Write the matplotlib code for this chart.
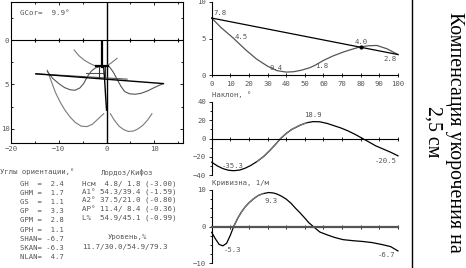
import matplotlib
matplotlib.use("Agg")
import matplotlib.pyplot as plt
from matplotlib.ticker import MultipleLocator

W, H = 466, 268
MONO = "DejaVu Sans Mono"
TXT = "#555555"
GRAY = "#7a7a7a"

# ---------------- data ----------------
# Left panel (frontal projection)
gcor = 9.9
line_black_x = [-14.8, 11.9]
line_black_y = [3.8, 4.9]
line_gray_x = [-14.8, 4.3]
line_gray_y = [3.8, 4.4]
wave_left_x = [-12.4, -11.3, -10.0, -8.8, -7.6, -6.6, -5.6, -4.8, -4.0, -3.2, -2.4, -1.6]
wave_left_y = [3.5, 4.3, 4.9, 5.35, 5.6, 5.65, 5.4, 4.9, 4.1, 3.5, 3.15, 3.0]
wave_right_x = [0.6, 1.4, 2.2, 3.0, 3.8, 4.8, 6.0, 7.2, 8.5, 9.8, 11.0, 11.9]
wave_right_y = [3.0, 3.6, 4.4, 5.2, 5.8, 6.05, 6.1, 6.0, 5.75, 5.4, 5.1, 4.9]
u_left_x = [-12.4, -11.6, -10.7, -9.7, -8.7, -7.6, -6.5, -5.3, -4.1, -3.0, -2.0, -1.2, -0.6]
u_left_y = [3.4, 4.6, 5.9, 7.0, 7.9, 8.7, 9.3, 9.7, 9.75, 9.5, 9.0, 8.6, 8.3]
u_right_x = [0.8, 1.6, 2.6, 3.6, 4.6, 5.6, 6.6, 7.6, 8.6, 9.5]
u_right_y = [8.3, 9.0, 9.7, 10.1, 10.3, 10.25, 10.0, 9.6, 9.0, 8.3]
arc_left_x = [-6.8, -5.8, -4.7, -3.6, -2.6, -1.5, -0.6]
arc_left_y = [1.1, 1.75, 2.25, 2.6, 2.85, 2.95, 3.0]
arc_right_x = [0.1, 0.8, 1.5, 2.2]
arc_right_y = [2.85, 2.65, 2.35, 2.05]
stem_x = [-0.9, -0.9]
stem_y = [0.2, 3.0]
spine_tail_x = [-0.6, -0.4, -0.2, 0.0]
spine_tail_y = [3.0, 4.5, 6.3, 7.9]
hbar_x = [-2.3, 0.2]
hbar_y = [2.9, 2.9]
box_x = [-1.6, -1.6, -0.3, -0.3]
box_y = [4.2, 2.9, 2.9, 4.2]
short_x = [-4.2, -0.8]
short_y = [3.7, 3.7]
left_inner_ticks = [-15, -10, -5, 5, 10, 15]

# Top right panel
pos = [0, 5, 11.4, 18, 24, 30, 35, 40, 44, 48, 52.7, 56, 60, 65, 70.7, 75, 79.6, 84, 88.6, 94, 100]
shift_curve = [7.8, 6.5, 5.1, 3.5, 2.2, 1.2, 0.6, 0.4, 0.45, 0.65, 1.0, 1.4, 2.0, 2.6, 3.15, 3.5, 3.85, 4.0, 4.05, 3.6, 2.8]
shift_line_x = [0, 100]
shift_line_y = [7.8, 2.8]
shift_labels = ["7.8", "4.5", "0.4", "1.8", "4.0", "2.8"]
shift_label_x = [4.5, 16, 34.8, 59.2, 80.1, 95.7]
shift_label_y = [8.5, 5.25, 0.95, 1.25, 4.55, 2.15]
shift_mark_x = [80]
shift_mark_y = [3.85]

# Middle right panel (Наклон)
tilt_x = [0, 3, 6, 9, 11.8, 15, 18, 21, 24.5, 28, 31, 34, 37, 40, 43, 47.6, 51, 54.5, 58, 62, 66, 69, 73, 77, 81, 85, 88, 92, 96, 100]
tilt_y = [-26, -30, -33, -34.8, -35.3, -34.6, -32.5, -29.5, -25, -19.5, -13.5, -7, 0, 5.5, 10, 14.7, 17.3, 18.5, 18.3, 16.5, 13.8, 11.8, 8.5, 4.5, 0, -4.5, -8, -11.5, -15, -19]
tilt_labels = ["-35.3", "18.9", "-20.5"]
tilt_label_x = [11, 54.5, 93.5]
tilt_label_y = [-30, 25.5, -24.7]

# Bottom right panel (Кривизна)
curv_x = [0, 2, 4, 6, 8, 10, 11.8, 14, 16, 18, 20, 22.5, 25, 27.5, 30.5, 33, 35, 37.5, 40, 42.5, 45, 47.5, 50, 52, 54.5, 58, 62, 66, 70.5, 76, 81, 86, 91, 96, 100]
curv_y = [-1.6, -3.4, -4.9, -5.3, -4.6, -2.4, 0, 2.3, 4.0, 5.4, 6.5, 7.6, 8.5, 9.0, 9.3, 9.2, 8.9, 8.3, 7.5, 6.4, 5.0, 3.7, 2.3, 1.1, 0, -1.5, -2.3, -3.0, -3.6, -3.9, -4.1, -4.4, -4.9, -5.5, -6.7]
curv_labels = ["9.3", "-5.3", "-6.7"]
curv_label_x = [32, 11.2, 93.8]
curv_label_y = [7.1, -6.4, -7.8]

# Text block data
angle_title = "Углы ориентации,°"
angle_names = ["GH", "GHM", "GS", "GP", "GPM", "GPH", "SHAN", "SKAN", "NLAN"]
angle_values = [2.4, 1.7, 1.1, 3.3, 2.8, 1.1, -6.7, -6.3, 4.7]
lk_title = "Лордоз/Кифоз"
lk_names = ["Hсм", "A1°", "A2°", "AP°", "L%"]
lk_lord = [4.8, 54.3, 37.5, 11.4, 54.9]
lk_kyph = [1.8, 39.4, 21.0, 8.4, 45.1]
lk_ratio = [-3.00, -1.59, -0.80, -0.36, -0.99]
level_title = "Уровень,%"
levels = [11.7, 30.0, 54.9, 79.3]
side_title = "Компенсация укорочения на\n2,5 см"
tilt_title = "Наклон, °"
curv_title = "Кривизна, 1/м"


def fx(px):
    return px / W


def fy(py):
    return 1 - py / H


def box(x0, y0, x1, y1):
    return [fx(x0), fy(y1), fx(x1) - fx(x0), fy(y0) - fy(y1)]


fig = plt.figure(figsize=(W / 100, H / 100), dpi=100)
fig.patch.set_facecolor("white")

tick_font = dict(labelsize=5.2, labelcolor=TXT, width=0.6, color="black")


def style_ticks(ax):
    for lab in ax.get_xticklabels() + ax.get_yticklabels():
        lab.set_fontfamily(MONO)


# ---------------- Left panel ----------------
axL = fig.add_axes(box(11, 2, 183, 143))
axL.set_xlim(-20, 16)
axL.set_ylim(11.6, -4.3)
axL.set_xticks([-20, -10, 0, 10])
axL.set_yticks([0, 5, 10])
axL.xaxis.set_minor_locator(MultipleLocator(5))
axL.yaxis.set_minor_locator(MultipleLocator(2.5))
axL.tick_params(which="both", direction="in", top=True, right=True, length=2.5, pad=1.2, **tick_font)
axL.tick_params(axis="x", pad=2.5)
axL.tick_params(which="minor", length=1.5)
for s in axL.spines.values():
    s.set_linewidth(0.8)
axL.axhline(0, color="black", lw=0.8)
axL.axvline(0, color="black", lw=1.0)
axL.plot(left_inner_ticks, [0] * len(left_inner_ticks), "|", color="black", ms=3, mew=0.8)
axL.plot(u_left_x, u_left_y, color=GRAY, lw=0.8)
axL.plot(u_right_x, u_right_y, color=GRAY, lw=0.8)
axL.plot(wave_left_x, wave_left_y, color="#555555", lw=0.8)
axL.plot(wave_right_x, wave_right_y, color="#555555", lw=0.8)
axL.plot(arc_left_x, arc_left_y, color=GRAY, lw=0.8)
axL.plot(arc_right_x, arc_right_y, color=GRAY, lw=0.8)
axL.plot(line_gray_x, line_gray_y, color="#555555", lw=0.8)
axL.plot(line_black_x, line_black_y, color="black", lw=1.0)
axL.plot(short_x, short_y, color="#555555", lw=0.8)
axL.plot(box_x, box_y, color="#333333", lw=0.8)
axL.plot(hbar_x, hbar_y, color="black", lw=1.6)
axL.plot(stem_x, stem_y, color="black", lw=1.6)
axL.plot(spine_tail_x, spine_tail_y, color="black", lw=1.0)
axL.text(0.055, 0.92, f"GCor=  {gcor:.1f}°", transform=axL.transAxes, fontsize=5.4,
         family=MONO, color=TXT, va="center", ha="left")
style_ticks(axL)

# ---------------- Top right panel ----------------
axT = fig.add_axes(box(211.7, 2, 398, 75))
axT.set_xlim(0, 100)
axT.set_ylim(0, 10)
axT.set_xticks(range(0, 101, 10))
axT.set_yticks([0, 5, 10])
axT.spines["top"].set_visible(False)
axT.spines["right"].set_visible(False)
for s in ["left", "bottom"]:
    axT.spines[s].set_linewidth(0.8)
axT.tick_params(axis="x", direction="inout", length=3, pad=3, **tick_font)
axT.tick_params(axis="y", direction="out", length=2.5, pad=1.5, **tick_font)
axT.plot(pos, shift_curve, color="#555555", lw=0.9, clip_on=False)
axT.plot(shift_line_x, shift_line_y, color="black", lw=0.9, clip_on=False)
axT.plot(shift_mark_x, shift_mark_y, "o", color="black", ms=2)
for t, x, y in zip(shift_labels, shift_label_x, shift_label_y):
    axT.text(x, y, t, fontsize=5.2, family=MONO, color=TXT, ha="center", va="center")
style_ticks(axT)

# ---------------- Middle right panel ----------------
axM = fig.add_axes(box(211.7, 102, 398, 175))
axM.set_xlim(0, 100)
axM.set_ylim(-40, 40)
axM.set_xticks(range(0, 101, 10))
axM.set_yticks([-40, -20, 0, 20, 40])
axM.yaxis.set_minor_locator(MultipleLocator(10))
axM.spines["top"].set_visible(False)
axM.spines["right"].set_visible(False)
axM.spines["bottom"].set_position(("data", 0))
axM.spines["left"].set_linewidth(0.8)
axM.spines["bottom"].set_linewidth(0.8)
axM.tick_params(axis="x", direction="inout", length=3, labelbottom=False, **tick_font)
axM.tick_params(axis="y", which="both", direction="out", length=2.5, pad=1.5, **tick_font)
axM.tick_params(axis="y", which="minor", length=1.5)
axM.plot(tilt_x, tilt_y, color="black", lw=0.9, clip_on=False)
axM.plot(tilt_x[8:17], tilt_y[8:17], color=GRAY, lw=0.9)
for t, x, y in zip(tilt_labels, tilt_label_x, tilt_label_y):
    axM.text(x, y, t, fontsize=5.2, family=MONO, color=TXT, ha="center", va="center")
style_ticks(axM)

# ---------------- Bottom right panel ----------------
axB = fig.add_axes(box(211.7, 190, 398, 263))
axB.set_xlim(0, 100)
axB.set_ylim(-10, 10)
axB.set_xticks(range(0, 101, 10))
axB.set_yticks([-10, 0, 10])
axB.yaxis.set_minor_locator(MultipleLocator(2.5))
axB.spines["top"].set_visible(False)
axB.spines["right"].set_visible(False)
axB.spines["bottom"].set_position(("data", 0))
axB.spines["left"].set_linewidth(0.8)
axB.spines["bottom"].set_linewidth(1.6)
axB.spines["bottom"].set_color("#555555")
axB.tick_params(axis="x", direction="inout", length=3.5, labelbottom=False, **tick_font)
axB.tick_params(axis="y", which="both", direction="out", length=2.5, pad=1.5, **tick_font)
axB.tick_params(axis="y", which="minor", length=1.5)
axB.plot(curv_x, curv_y, color="black", lw=0.9, clip_on=False)
axB.plot(curv_x[6:14], curv_y[6:14], color=GRAY, lw=0.9)
for t, x, y in zip(curv_labels, curv_label_x, curv_label_y):
    axB.text(x, y, t, fontsize=5.2, family=MONO, color=TXT, ha="center", va="center")
style_ticks(axB)

# Panel titles
fig.text(fx(212), fy(95), tilt_title, fontsize=5.2, family=MONO, color=TXT, va="center", ha="left")
fig.text(fx(212), fy(183), curv_title, fontsize=5.2, family=MONO, color=TXT, va="center", ha="left")

# ---------------- Text block ----------------
fig.text(fx(0), fy(172), angle_title, fontsize=5.2, family=MONO, color=TXT, va="center", ha="left")
for i, (n, v) in enumerate(zip(angle_names, angle_values)):
    fig.text(fx(20), fy(184 + 9.1 * i), f"{n:<4}={v:5.1f}", fontsize=5.2, family=MONO,
             color=TXT, va="center", ha="left")
fig.text(fx(127), fy(172), lk_title, fontsize=5.2, family=MONO, color=TXT, va="center", ha="center")
for i, (n, a, b, r) in enumerate(zip(lk_names, lk_lord, lk_kyph, lk_ratio)):
    fig.text(fx(82), fy(183.5 + 8.5 * i), f"{n:<4}{a:4.1f}/{b:4.1f} ({r:.2f})", fontsize=5.4,
             family=MONO, color=TXT, va="center", ha="left")
fig.text(fx(127), fy(237), level_title, fontsize=5.2, family=MONO, color=TXT, va="center", ha="center")
fig.text(fx(82), fy(247), "/".join(f"{v:.1f}" for v in levels), fontsize=5.4, family=MONO,
         color=TXT, va="center", ha="left")

# Separator and rotated caption
fig.add_artist(plt.Line2D([fx(412), fx(412)], [0, 1], color="black", lw=1.0))
fig.text(fx(444), fy(132), side_title, rotation=-90, fontsize=14.3, family="Liberation Serif",
         color="black", ha="center", va="center", multialignment="center", linespacing=1.15)

fig.savefig("out.png", dpi=100, facecolor="white")
